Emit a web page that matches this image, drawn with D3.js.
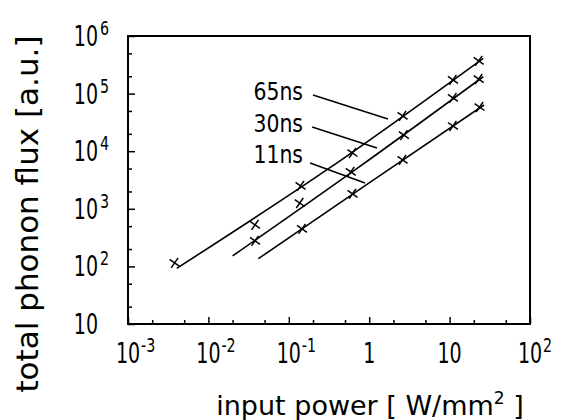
<!DOCTYPE html>
<html><head><meta charset="utf-8">
<script src="https://cdn.jsdelivr.net/npm/d3@7"></script>
<style>
html,body{margin:0;padding:0;background:#fff;}
svg{display:block;}
text{font-family:"DejaVu Sans",sans-serif;fill:#000;}
</style></head>
<body>
<svg id="chart" width="564" height="420"></svg>
<script>
// ---- data ----
const seriesNames = ["65ns", "30ns", "11ns"];
// measured points (input power W/mm^2, phonon flux a.u.)
const pts65x = [0.0038, 0.038, 0.14, 0.62, 2.6, 11, 23];
const pts65y = [115, 525, 2500, 9300, 41000, 173000, 370000];
const pts30x = [0.038, 0.137, 0.59, 2.7, 11, 23];
const pts30y = [277, 1260, 4370, 19000, 84000, 179000];
const pts11x = [0.146, 0.62, 2.6, 11, 23.6];
const pts11y = [447, 1820, 7070, 27400, 58500];
// fitted curves (start, middle, end)
const fit65x = [0.00404, 0.325, 26.2];
const fit65y = [92.6, 5170, 410000];
const fit30x = [0.020, 0.70, 26.2];
const fit30y = [152, 4970, 196000];
const fit11x = [0.0418, 1.02, 26.8];
const fit11y = [136, 2884, 63400];
// annotation labels and leader lines
const labelX = [0.150, 0.150, 0.150];
const labelY = [77400, 21500, 6240];
const leaderX0 = [0.20, 0.195, 0.184];
const leaderY0 = [94600, 26300, 6240];
const leaderX1 = [1.71, 1.25, 0.887];
const leaderY1 = [36200, 11400, 2800];
// ticks
const xTickValues = [1e-3, 1e-2, 1e-1, 1, 10, 100];
const xTickBase = ["10", "10", "10", "1", "10", "10"];
const xTickExp = ["-3", "-2", "-1", "", "", "2"];
const yTickValues = [10, 1e2, 1e3, 1e4, 1e5, 1e6];
const yTickBase = ["10", "10", "10", "10", "10", "10"];
const yTickExp = ["", "2", "3", "4", "5", "6"];
const minorMultipliers = [2, 5];
const xTitle = "input power [ W/mm";
const xTitleSup = "2";
const xTitleEnd = " ]";
const yTitle = "total phonon flux [a.u.]";

// ---- layout ----
const L = 128, R = 530, T = 36, B = 324;
const svg = d3.select("#chart");
const x = d3.scaleLog().domain([1e-3, 1e2]).range([L, R]);
const y = d3.scaleLog().domain([10, 1e6]).range([B, T]);

function minorOf(values){
  const out = [];
  values.forEach(v => minorMultipliers.forEach(m => { const w = v*m; if (w < values[values.length-1]) out.push(w); }));
  return out;
}
const xMinor = minorOf(xTickValues);
const yMinor = minorOf(yTickValues);

// ticks (inward)
const gx = svg.append("g").attr("transform", `translate(0,${B})`);
gx.call(d3.axisBottom(x).tickValues(xMinor).tickSize(-4).tickFormat(""));
gx.append("g").call(d3.axisBottom(x).tickValues(xTickValues).tickSize(-7).tickFormat(""));
const gy = svg.append("g").attr("transform", `translate(${L},0)`);
gy.call(d3.axisLeft(y).tickValues(yMinor).tickSize(-4).tickFormat(""));
gy.append("g").call(d3.axisLeft(y).tickValues(yTickValues).tickSize(-7).tickFormat(""));
svg.selectAll(".domain").remove();
svg.selectAll(".tick line").attr("stroke", "#000").attr("stroke-width", 1.5);

// frame
svg.append("rect").attr("x", L).attr("y", T).attr("width", R-L).attr("height", B-T)
  .attr("fill", "none").attr("stroke", "#000").attr("stroke-width", 2);

// x tick labels
xTickValues.forEach((v, i) => {
  const px = x(v);
  svg.append("g").attr("transform", `translate(${px},363) scale(0.68,1)`)
    .append("text").attr("text-anchor", "middle").attr("font-size", 28).text(xTickBase[i]);
  if (xTickExp[i]) {
    svg.append("g").attr("transform", `translate(${px+13},352) scale(0.75,1)`)
      .append("text").attr("text-anchor", "start").attr("font-size", 19).text(xTickExp[i]);
  }
});
// y tick labels
yTickValues.forEach((v, i) => {
  const py = y(v);
  svg.append("g").attr("transform", `translate(98,${py+10}) scale(0.68,1)`)
    .append("text").attr("text-anchor", "end").attr("font-size", 28).text(yTickBase[i]);
  if (yTickExp[i]) {
    svg.append("g").attr("transform", `translate(100,${py-1}) scale(0.75,1)`)
      .append("text").attr("text-anchor", "start").attr("font-size", 19).text(yTickExp[i]);
  }
});

// axis titles
const xt = svg.append("text").attr("x", 370).attr("y", 415).attr("text-anchor", "middle")
  .attr("font-size", 27);
xt.append("tspan").text(xTitle);
xt.append("tspan").attr("font-size", 17).attr("dy", -11).text(xTitleSup);
xt.append("tspan").attr("dy", 11).text(xTitleEnd);
svg.append("text").attr("transform", "translate(38,214) rotate(-90)").attr("text-anchor", "middle")
  .attr("font-size", 31).text(yTitle);

// fitted lines
const fits = [[fit65x, fit65y], [fit30x, fit30y], [fit11x, fit11y]];
const line = d3.line().x(d => x(d[0])).y(d => y(d[1])).curve(d3.curveNatural);
fits.forEach(([fx, fy]) => {
  svg.append("path").attr("d", line(d3.zip(fx, fy)))
    .attr("fill", "none").attr("stroke", "#000").attr("stroke-width", 1.6);
});

// markers
const pts = [[pts65x, pts65y], [pts30x, pts30y], [pts11x, pts11y]];
const sym = d3.symbol().type(d3.symbolX).size(50);
pts.forEach(([px, py]) => {
  svg.append("g").selectAll("path").data(d3.zip(px, py)).join("path")
    .attr("transform", d => `translate(${x(d[0])},${y(d[1])}) rotate(-10)`)
    .attr("d", sym).attr("fill", "none").attr("stroke", "#000").attr("stroke-width", 1.5);
});

// labels with leader lines
seriesNames.forEach((name, i) => {
  svg.append("line")
    .attr("x1", x(leaderX0[i])).attr("y1", y(leaderY0[i]))
    .attr("x2", x(leaderX1[i])).attr("y2", y(leaderY1[i]))
    .attr("stroke", "#000").attr("stroke-width", 1.5);
  svg.append("g").attr("transform", `translate(${x(labelX[i])},${y(labelY[i])}) scale(0.85,1)`)
    .append("text").attr("text-anchor", "end").attr("font-size", 24).text(name);
});
</script>
</body></html>
